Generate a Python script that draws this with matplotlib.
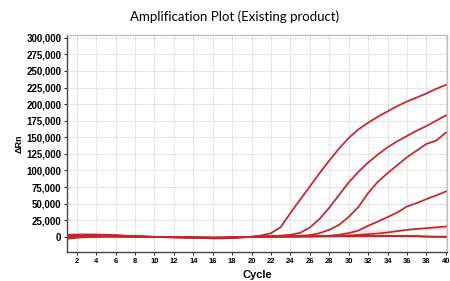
import numpy as np
import matplotlib.pyplot as plt

# cycles and delta Rn readings
cycles = np.arange(1, 41)

curve_a = [2000, 1500, 1000, 800, 500, 300, 200, 0, -200, -400, -500, -600, -700, -900,
           -1000, -1200, -1000, -800, -400, 0, 2000, 5500, 14600, 36000, 56000, 76000,
           96000, 115000, 133000, 149000, 162000, 172000, 181000, 189000, 197000, 204000,
           210000, 216000, 223000, 229000]

curve_b = [-1000, -500, 0, 500, 800, 600, 400, 200, 0, -300, -500, -700, -900, -1100,
           -1300, -1500, -1200, -900, -500, 0, 500, 1000, 1800, 3000, 6000, 14000, 27000,
           44000, 63000, 82000, 98000, 112000, 124000, 135000, 144000, 152000, 160000,
           167000, 175000, 183000]

curve_c = [1000, 800, 600, 500, 400, 300, 200, 100, 0, -200, -400, -600, -800, -1000,
           -1300, -1600, -1400, -1000, -500, 0, 300, 500, 700, 1000, 1500, 2500, 5500,
           10500, 18000, 30000, 45000, 66000, 83000, 96000, 108000, 120000, 130000,
           140000, 145000, 157000]

curve_d = [-3000, -1500, -500, 0, 500, 1000, 800, 500, 0, -300, -600, -800, -1000,
           -1400, -1800, -2500, -2200, -1500, -800, -200, 0, 200, 300, 400, 500, 700,
           900, 1500, 3000, 5500, 9500, 16600, 23000, 29700, 36700, 45700, 50800, 56800,
           62300, 68400]

curve_e = [3000, 3500, 3500, 3500, 3000, 2500, 1500, 1000, 500, 0, -300, -500, -800,
           -1000, -1500, -2000, -2500, -1800, -1000, -300, 0, 200, 300, 400, 500, 600,
           800, 1000, 1500, 2000, 3000, 4000, 5000, 6500, 8500, 10500, 12000, 13000,
           14300, 15500]

curve_f = [0, 500, 1500, 2500, 2500, 2000, 1500, 1000, 500, 0, -200, -400, -500, -700,
           -800, -1000, -1200, -1000, -500, 0, 300, 500, 700, 800, 900, 1000, 1100, 1200,
           1300, 1400, 1500, 1500, 1500, 1500, 1400, 1200, 1000, 300, 0, 0]

curve_g = [2000, 2500, 3000, 2500, 2000, 1500, 1000, 500, 0, -300, -500, -800, -1000,
           -1200, -1400, -1600, -1400, -1000, -500, 0, 200, 300, 400, 500, 500, 500, 600,
           600, 700, 700, 800, 800, 900, 900, 900, 800, 700, 400, 200, 200]

faint = [None] * 27 + [3000, 4500, 6000, 7000, 8000, 8500, 9000, 9500, 10000, 10500,
                       11000, 11500, 12000]

y_ticks = np.arange(0, 300001, 25000)
x_ticks = np.arange(2, 41, 2)

fig = plt.figure(figsize=(4.5, 2.81), dpi=100)
ax = fig.add_axes([0.149, 0.103, 0.844, 0.772])

red = '#cc2229'
faint_y = [np.nan if v is None else v for v in faint]
ax.plot(cycles, faint_y, color='#e6e6e6', lw=1.6, zorder=2)
for c in [curve_a, curve_b, curve_c, curve_d, curve_e, curve_f, curve_g]:
    ax.plot(cycles, c, color=red, lw=1.25, zorder=3)

ax.set_xlim(1, 40.1)
ax.set_ylim(-23000, 304000)
ax.set_xticks(x_ticks)
ax.set_yticks(y_ticks)
ax.set_yticklabels([f'{v:,}' for v in y_ticks])
ax.tick_params(axis='y', labelsize=7, length=2, pad=2, width=0.6)
ax.tick_params(axis='x', labelsize=5.5, length=2, pad=2, width=0.6)
for lab in ax.get_yticklabels() + ax.get_xticklabels():
    lab.set_fontweight('bold')
    lab.set_family('Liberation Sans')

ax.grid(True, color='#c8c8c8', linestyle=(0, (1.5, 1.5)), linewidth=0.6)
ax.set_axisbelow(True)
ax.spines['left'].set_color('#444444')
ax.spines['bottom'].set_color('#444444')
ax.spines['top'].set_color('#c0c0c0')
ax.spines['right'].set_color('#c0c0c0')
for s in ax.spines.values():
    s.set_linewidth(1.0)

ax.set_xlabel('Cycle', fontsize=8, fontweight='bold', family='Liberation Sans', labelpad=4)
ax.set_ylabel('\u0394Rn', fontsize=6.5, fontweight='bold', family='Liberation Sans', labelpad=2)
fig.text(0.522, 0.94, 'Amplification Plot (Existing product)', ha='center', va='center',
         fontsize=9.5, family='Lato')

fig.savefig('out.png', dpi=100)
